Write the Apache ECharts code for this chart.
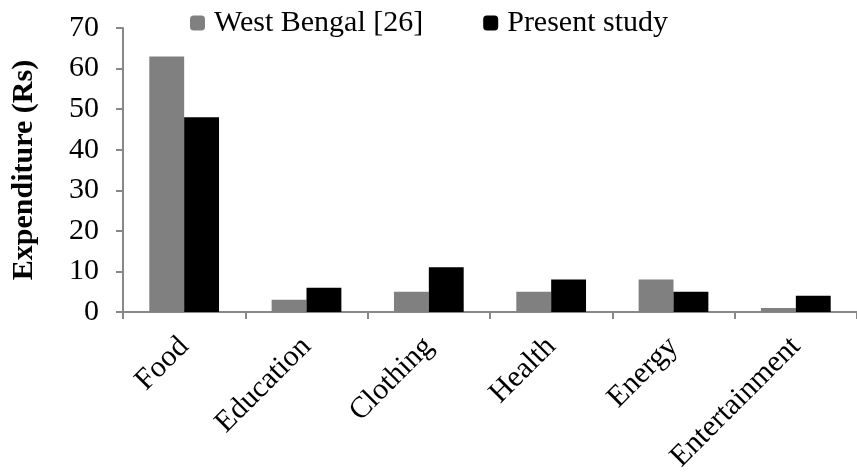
<!DOCTYPE html>
<html>
<head>
<meta charset="utf-8">
<script src="https://cdn.jsdelivr.net/npm/echarts@6/dist/echarts.min.js"></script>
<style>
  html, body { margin: 0; padding: 0; background: #fff; }
  #chart { width: 857px; height: 475px; }
</style>
</head>
<body>
<div id="chart"></div>
<script>
// data
const categories = ['Food', 'Education', 'Clothing', 'Health', 'Energy', 'Entertainment']
const westBengal = [63, 3, 5, 5, 8, 1]
const presentStudy = [48, 6, 11, 8, 5, 4]

const font = 'Liberation Serif, Times New Roman, serif'
const axisGrey = '#888888'

const chart = echarts.init(document.getElementById('chart'))
chart.setOption({
  animation: false,
  textStyle: { fontFamily: font },
  legend: {
    top: 3,
    left: 185,
    itemWidth: 15,
    itemHeight: 15,
    itemGap: 60,
    textStyle: { fontFamily: font, fontSize: 30, color: '#000', padding: [0, 0, 0, 4] },
    data: ['West Bengal [26]', 'Present study']
  },
  grid: { left: 123, top: 28, width: 744, height: 284 },
  xAxis: {
    type: 'category',
    data: categories,
    axisLine: { lineStyle: { color: axisGrey, width: 2 } },
    axisTick: { show: true, length: 7, lineStyle: { color: axisGrey, width: 2 } },
    axisLabel: {
      rotate: 45,
      interval: 0,
      margin: 30,
      fontFamily: font,
      fontSize: 30,
      color: '#000'
    }
  },
  yAxis: {
    type: 'value',
    min: 0,
    max: 70,
    interval: 10,
    name: 'Expenditure (Rs)',
    nameLocation: 'middle',
    nameGap: 84,
    nameTextStyle: { fontFamily: font, fontSize: 30, fontWeight: 'bold', color: '#000' },
    splitLine: { show: false },
    axisLine: { show: true, lineStyle: { color: axisGrey, width: 2 } },
    axisTick: { show: true, length: 7, lineStyle: { color: axisGrey, width: 2 } },
    axisLabel: { fontFamily: font, fontSize: 30, color: '#000', margin: 24 }
  },
  series: [
    {
      name: 'West Bengal [26]',
      type: 'bar',
      data: westBengal,
      barGap: '0%',
      barCategoryGap: '43%',
      itemStyle: { color: '#808080' }
    },
    {
      name: 'Present study',
      type: 'bar',
      data: presentStudy,
      barGap: '0%',
      barCategoryGap: '43%',
      itemStyle: { color: '#000000' }
    }
  ]
})
</script>
</body>
</html>
